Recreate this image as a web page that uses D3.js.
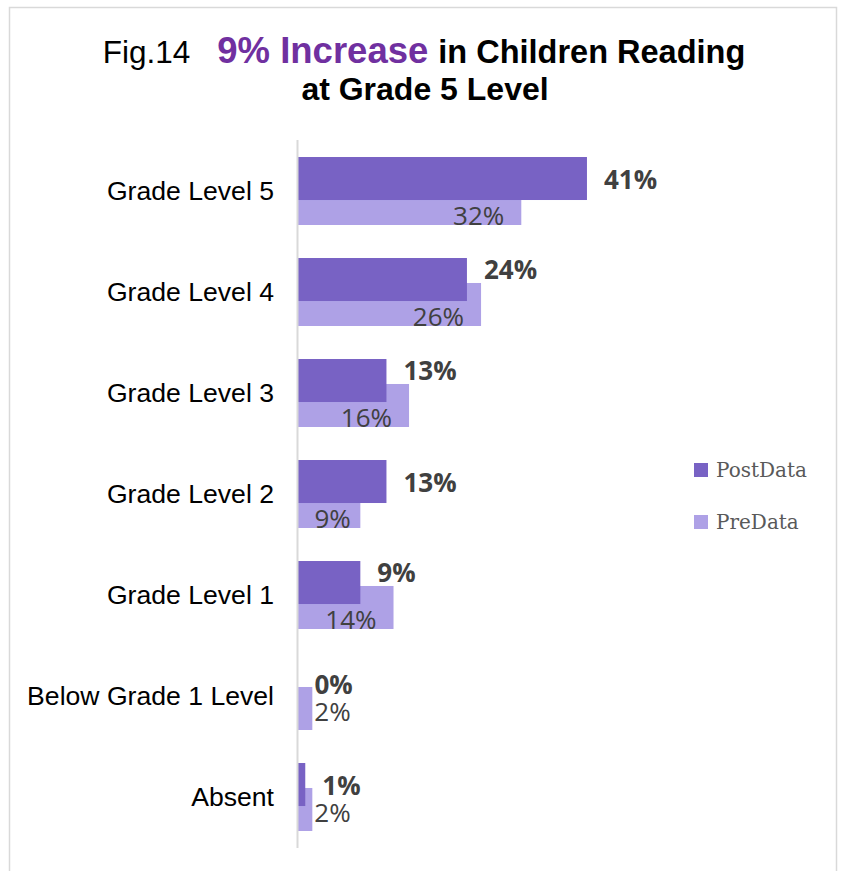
<!DOCTYPE html>
<html>
<head>
<meta charset="utf-8">
<script src="https://cdn.jsdelivr.net/npm/d3@7"></script>
<style>
  body { margin: 0; background: #fff; }
</style>
</head>
<body>
<script>
// categories top to bottom
var categories = ["Grade Level 5", "Grade Level 4", "Grade Level 3", "Grade Level 2", "Grade Level 1", "Below Grade 1 Level", "Absent"];
// percentages
var postData = [41.0, 24.0, 12.6, 12.6, 8.9, 0, 1.1];
var preData = [31.7, 26.0, 15.8, 8.9, 13.6, 2.1, 2.1];
var seriesNames = ["PostData", "PreData"];

var width = 843;
var height = 871;
var postColor = "#7862c4";
var preColor = "#aea1e6";
var labelColor = "#404040";

var svg = d3.select("body").append("svg").attr("width", width).attr("height", height);

// outer frame
svg.append("rect")
    .attr("x", 9.5).attr("y", 7.5)
    .attr("width", 827).attr("height", 900)
    .attr("fill", "none")
    .attr("stroke", "#d9d9d9")
    .attr("stroke-width", 1.5);

// title
var title = svg.append("text")
    .attr("x", 424).attr("y", 63)
    .attr("text-anchor", "middle")
    .style("font-family", "'Liberation Sans', Arial, sans-serif")
    .style("font-size", "31.5px");
title.append("tspan").text("Fig.14").attr("fill", "#000");
title.append("tspan").attr("dx", 27).text("9% Increase").attr("fill", "#7030a0")
    .style("font-weight", "bold").style("font-size", "36.5px");
title.append("tspan").attr("dx", 1).text(" in Children Reading").attr("fill", "#000")
    .style("font-weight", "bold").style("font-size", "32.5px");

svg.append("text")
    .attr("x", 425).attr("y", 100)
    .attr("text-anchor", "middle")
    .style("font-family", "'Liberation Sans', Arial, sans-serif")
    .style("font-size", "32px")
    .style("font-weight", "bold")
    .text("at Grade 5 Level");

var x0 = 297.5;
var xScale = d3.scaleLinear()
    .domain([0, 45])
    .range([x0, x0 + 45 * 7.06]);

var yScale = d3.scaleBand()
    .domain(categories)
    .range([140.5, 847.5])
    .paddingInner(0.327)
    .paddingOuter(0.1635);

var bw = yScale.bandwidth();
var barH = 43;

// category labels
svg.append("g")
    .selectAll("text")
    .data(categories)
    .enter()
    .append("text")
    .attr("x", 274)
    .attr("y", function(d) { return yScale(d) + bw / 2; })
    .attr("dy", "0.35em")
    .attr("text-anchor", "end")
    .style("font-family", "'Liberation Sans', Arial, sans-serif")
    .style("font-size", "26.6px")
    .attr("fill", "#000")
    .text(function(d) { return d; });

// pre bars (behind)
svg.append("g")
    .selectAll("rect")
    .data(preData)
    .enter()
    .append("rect")
    .attr("x", x0)
    .attr("y", function(d, i) { return yScale(categories[i]) + bw - barH; })
    .attr("width", function(d) { return xScale(d) - x0; })
    .attr("height", barH)
    .attr("fill", preColor);

// post bars (front)
svg.append("g")
    .selectAll("rect")
    .data(postData)
    .enter()
    .append("rect")
    .attr("x", x0)
    .attr("y", function(d, i) { return yScale(categories[i]); })
    .attr("width", function(d) { return xScale(d) - x0; })
    .attr("height", barH)
    .attr("fill", postColor);

// axis line
svg.append("line")
    .attr("x1", 297.5).attr("x2", 297.5)
    .attr("y1", 140).attr("y2", 848)
    .attr("stroke", "#d9d9d9")
    .attr("stroke-width", 2);

// post labels
svg.append("g")
    .selectAll("text")
    .data(postData)
    .enter()
    .append("text")
    .attr("x", function(d) { return xScale(d) + 17; })
    .attr("y", function(d, i) {
        var c = yScale(categories[i]) + barH / 2;
        var blocked = d > 0 && xScale(preData[i]) > xScale(d) + 10;
        return blocked ? c - 10 : c + 1;
    })
    .attr("dy", "0.36em")
    .style("font-family", "'Open Sans', sans-serif")
    .style("font-size", "26px")
    .style("font-weight", "bold")
    .attr("fill", labelColor)
    .text(function(d) { return Math.round(d) + "%"; });

// pre labels
svg.append("g")
    .selectAll("text")
    .data(preData)
    .enter()
    .append("text")
    .each(function(d, i) {
        var t = d3.select(this)
            .style("font-family", "'Open Sans', sans-serif")
            .style("font-size", "26px")
            .attr("fill", labelColor)
            .attr("dy", "0.36em")
            .text(Math.round(d) + "%");
        var tw = this.getComputedTextLength();
        var c = yScale(categories[i]) + bw - barH / 2;
        var barW = xScale(d) - x0;
        if (barW > tw + 20) {
            t.attr("text-anchor", "end")
                .attr("x", Math.max(xScale(d) - 17, x0 + tw + 17))
                .attr("y", c + 12);
        } else {
            t.attr("x", xScale(d) + 2)
                .attr("y", c + 3);
        }
    });

// legend
var legend = svg.append("g")
    .selectAll("g")
    .data(seriesNames)
    .enter()
    .append("g")
    .attr("transform", function(d, i) { return "translate(694," + (463 + i * 52) + ")"; });

legend.append("rect")
    .attr("width", 14).attr("height", 14)
    .attr("fill", function(d, i) { return i === 0 ? postColor : preColor; });

legend.append("text")
    .attr("x", 22).attr("y", 14)
    .style("font-family", "'DejaVu Serif', serif")
    .style("font-size", "20px")
    .attr("fill", "#595959")
    .text(function(d) { return d; });
</script>
</body>
</html>
